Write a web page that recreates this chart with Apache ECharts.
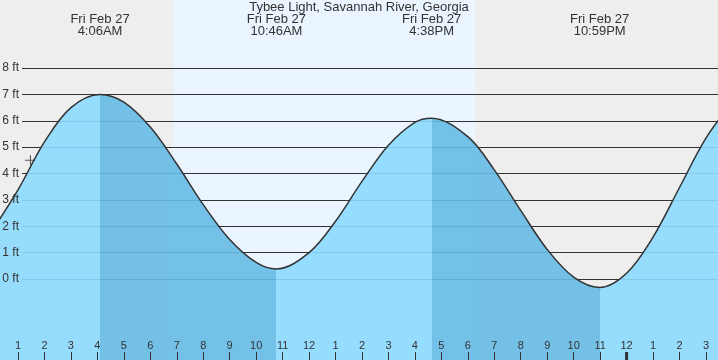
<!DOCTYPE html>
<html><head><meta charset="utf-8">
<script src="https://cdn.jsdelivr.net/npm/echarts@6/dist/echarts.min.js"></script>
<style>html,body{margin:0;padding:0;background:#eeeeee}#c{width:718px;height:360px}</style>
</head><body><div id="c"></div>
<script>
// ---- data (hours from midnight Fri Feb 27; heights in ft) ----
const chartTitle = 'Tybee Light, Savannah River, Georgia';
const times   = [0, 1, 2, 3, 4.1, 5, 6, 7, 8, 9, 10, 10.767, 12, 13, 14, 15, 16, 16.633, 18, 19, 20, 21, 22, 22.983, 24, 25, 26, 27, 28];
const heights = [1.8, 3.38, 5.2, 6.5, 7.0, 6.71, 5.76, 4.36, 2.82, 1.5, 0.63, 0.38, 1.0, 2.19, 3.70, 5.07, 5.94, 6.1, 5.40, 4.14, 2.60, 1.12, 0.07, -0.32, 0.22, 1.59, 3.47, 5.34, 6.70];
const extremeTimes   = [4.1, 10.767, 16.633, 22.983];
const extremeKinds   = ['high', 'low', 'high', 'low'];
const extremeDates   = ['Fri Feb 27', 'Fri Feb 27', 'Fri Feb 27', 'Fri Feb 27'];
const extremeClocks  = ['4:06AM', '10:46AM', '4:38PM', '10:59PM'];
const sunTimes = [6.86, 18.28];           // sunrise, sunset
const nowTime = [1.45];
const nowHeight = [4.5];
const midnightHour = 24;
const yTickValues = [0, 1, 2, 3, 4, 5, 6, 7, 8];

// ---- styling ----
const FONT = 'Liberation Sans, Arial, sans-serif';
const TXT = '#333333';
const LIGHT = '#8cdaff';
const DARK = '#66bbe5';
const X_MIN = 0, X_MAX = 28, Y_MIN = -4, Y_MAX = 11;
const SMOOTH = 0.35;

const curve = times.map((t, i) => [t, heights[i]]);

// dark band pieces: from each high to the following low
const pieces = [];
let prev = -1000;
extremeTimes.forEach((t, i) => {
  pieces.push({ gte: prev, lt: t, color: extremeKinds[i] === 'high' ? LIGHT : DARK });
  prev = t;
});
pieces.push({ gte: prev, lt: 1000, color: LIGHT });

const chart = echarts.init(document.getElementById('c'));
const option = {
  backgroundColor: '#eeeeee',
  animation: false,
  title: { text: chartTitle, left: 'center', top: 0, padding: [1, 0, 0, 0],
    textStyle: { fontSize: 13, fontWeight: 'normal', color: TXT, fontFamily: FONT } },
  grid: [
    { left: -8.46, right: -14.42, top: -11.1, bottom: -24.5, outerBoundsMode: 'none', containLabel: false },
    { left: 22, right: 0, top: 68, bottom: 81, outerBoundsMode: 'none', containLabel: false },
    { left: -8.46, right: -14.42, top: 0, bottom: 0, outerBoundsMode: 'none', containLabel: false }
  ],
  xAxis: [
    { type: 'value', gridIndex: 0, min: X_MIN, max: X_MAX, show: false, axisLine: { onZero: false } },
    { type: 'value', gridIndex: 1, min: X_MIN, max: X_MAX, show: false, axisLine: { onZero: false } },
    { type: 'value', gridIndex: 2, position: 'bottom', min: X_MIN, max: X_MAX, interval: 1, z: 10,
      axisLine: { show: false, onZero: false }, splitLine: { show: false },
      axisTick: { show: true, inside: true, length: 8, lineStyle: { color: TXT, width: 1 } },
      axisLabel: { show: true, inside: true, margin: 9, fontSize: 11, color: TXT, fontFamily: FONT,
        formatter: v => { const h = v % 12; return String(h === 0 ? 12 : h); } } }
  ],
  yAxis: [
    { type: 'value', gridIndex: 0, min: Y_MIN, max: Y_MAX, show: false, axisLine: { onZero: false } },
    { type: 'value', gridIndex: 1, position: 'left', min: yTickValues[0], max: yTickValues[yTickValues.length - 1], interval: 1, z: 1,
      axisLine: { show: false, onZero: false }, axisTick: { show: false }, axisLabel: { show: false },
      splitLine: { show: true, lineStyle: { color: TXT, width: 1 } } },
    { type: 'value', gridIndex: 1, position: 'left', offset: 0, min: yTickValues[0], max: yTickValues[yTickValues.length - 1], interval: 1, z: 10,
      axisLine: { show: false, onZero: false }, axisTick: { show: false }, splitLine: { show: false },
      axisLabel: { show: true, margin: 3, fontSize: 12, color: TXT, fontFamily: FONT, formatter: '{value} ft' } },
    { type: 'value', gridIndex: 2, min: 0, max: 1, show: false, axisLine: { onZero: false } }
  ],
  visualMap: [{ type: 'piecewise', show: false, dimension: 0, seriesIndex: 1, pieces: pieces }],
  series: [
    { type: 'line', xAxisIndex: 0, yAxisIndex: 0, z: 0, silent: true, showSymbol: false,
      data: sunTimes.map(t => [t, Y_MAX]), lineStyle: { width: 0 },
      areaStyle: { color: '#eaf5ff', opacity: 1, origin: 'start' } },
    { type: 'line', xAxisIndex: 0, yAxisIndex: 0, z: 2, silent: true, showSymbol: false,
      smooth: SMOOTH, data: curve, lineStyle: { width: 0 }, areaStyle: { opacity: 0.9, origin: 'start' } },
    { type: 'line', xAxisIndex: 0, yAxisIndex: 0, z: 3, silent: true, showSymbol: false,
      smooth: SMOOTH, data: curve, lineStyle: { color: TXT, width: 1.5 } },
    { type: 'scatter', xAxisIndex: 0, yAxisIndex: 0, z: 4, silent: true,
      data: nowTime.map((t, i) => [t, nowHeight[i]]),
      symbol: 'path://M0,4.5h9v1h-9zM4.5,0h1v10h-1z', symbolSize: 10,
      itemStyle: { color: TXT } }
  ]
};
chart.setOption(option);

const gx = t => chart.convertToPixel({ xAxisIndex: 0 }, t);
const graphics = extremeTimes.map((t, i) => ({
  type: 'text', x: gx(t), y: 13, z: 100,
  style: { text: extremeDates[i] + '\n' + extremeClocks[i], align: 'center', verticalAlign: 'top',
    fill: TXT, fontSize: 13, fontFamily: FONT, lineHeight: 12 }
}));
graphics.push({ type: 'rect', z: 100, shape: { x: gx(midnightHour) - 1.5, y: 352, width: 3, height: 8 }, style: { fill: TXT } });
chart.setOption({ graphic: graphics });
</script>
</body></html>
